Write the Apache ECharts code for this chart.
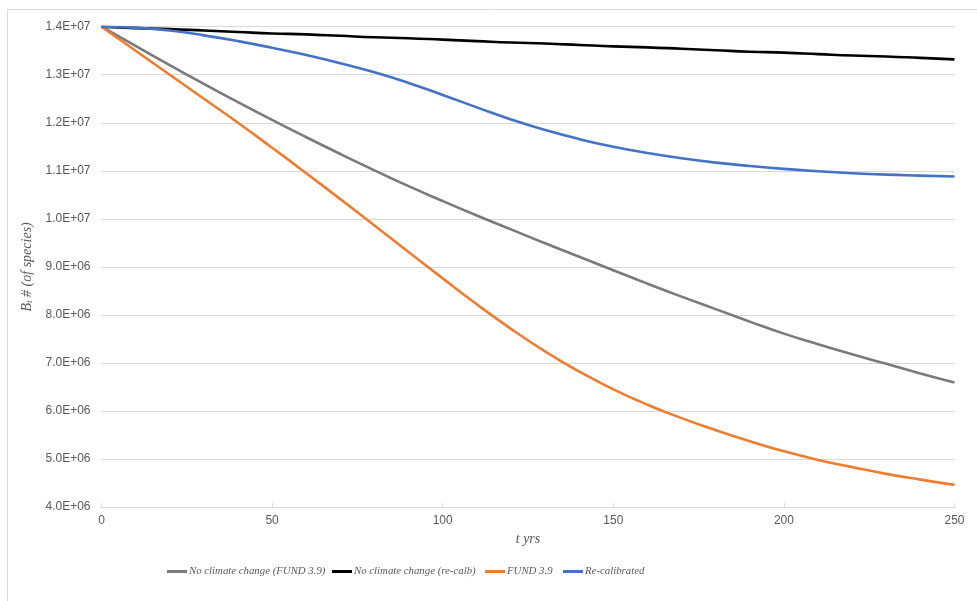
<!DOCTYPE html>
<html>
<head>
<meta charset="utf-8">
<script src="https://cdn.jsdelivr.net/npm/echarts@6/dist/echarts.min.js"></script>
<style>
  html, body { margin: 0; padding: 0; background: #ffffff; }
  #chart { width: 977px; height: 601px; }
</style>
</head>
<body>
<div id="chart"></div>
<script>
// Time axis (years), sampled every 10 years
const years = [0, 10, 20, 30, 40, 50, 60, 70, 80, 90, 100, 110, 120, 130, 140, 150,
               160, 170, 180, 190, 200, 210, 220, 230, 240, 250];

// Number of species B_t for each scenario
const noClimateFund = [1.400e7, 1.360e7, 1.320e7, 1.281e7, 1.243e7, 1.206e7, 1.170e7, 1.135e7,
                       1.101e7, 1.068e7, 1.037e7, 1.007e7, 0.978e7, 0.949e7, 0.921e7, 0.893e7,
                       0.865e7, 0.838e7, 0.812e7, 0.786e7, 0.761e7, 0.739e7, 0.718e7, 0.698e7,
                       0.678e7, 0.659e7];
const noClimateRecalb = [1.400e7, 1.397e7, 1.395e7, 1.392e7, 1.389e7, 1.386e7, 1.384e7, 1.381e7,
                         1.378e7, 1.376e7, 1.373e7, 1.370e7, 1.367e7, 1.365e7, 1.362e7, 1.359e7,
                         1.357e7, 1.354e7, 1.351e7, 1.348e7, 1.346e7, 1.343e7, 1.340e7, 1.338e7,
                         1.335e7, 1.332e7];
const fund39 = [1.400e7, 1.350e7, 1.300e7, 1.250e7, 1.200e7, 1.148e7, 1.095e7, 1.041e7,
                0.986e7, 0.931e7, 0.876e7, 0.822e7, 0.771e7, 0.724e7, 0.682e7, 0.645e7,
                0.613e7, 0.585e7, 0.560e7, 0.537e7, 0.516e7, 0.498e7, 0.483e7, 0.469e7,
                0.457e7, 0.446e7];
const recalibrated = [1.400e7, 1.398e7, 1.392e7, 1.382e7, 1.370e7, 1.356e7, 1.341e7, 1.324e7,
                      1.305e7, 1.283e7, 1.258e7, 1.232e7, 1.207e7, 1.185e7, 1.166e7, 1.150e7,
                      1.137e7, 1.126e7, 1.117e7, 1.110e7, 1.104e7, 1.099e7, 1.095e7, 1.092e7,
                      1.090e7, 1.088e7];

// Axis ranges
const yMin = 4e6, yMax = 1.4e7, yStep = 1e6;
const xMin = 0, xMax = 250, xStep = 50;

const seriesDefs = [
  { name: 'No climate change (FUND 3.9)', data: noClimateFund, color: '#7a7a7a' },
  { name: 'No climate change (re-calb)', data: noClimateRecalb, color: '#000000' },
  { name: 'FUND 3.9', data: fund39, color: '#ed7d31' },
  { name: 'Re-calibrated', data: recalibrated, color: '#4472c4' }
];
// Left edge of each legend entry
const legendLefts = [167, 332, 485, 563];

// Excel-style scientific tick labels, e.g. 1.4E+07
function sciLabel(v) {
  const exp = Math.floor(Math.log10(v) + 1e-9);
  const mant = v / Math.pow(10, exp);
  return mant.toFixed(1) + 'E+' + String(exp).padStart(2, '0');
}

const chart = echarts.init(document.getElementById('chart'));
const labelColor = '#595959';
const serif = '"Liberation Serif", "DejaVu Serif", serif';

chart.setOption({
  animation: false,
  backgroundColor: '#ffffff',
  graphic: [{
    type: 'rect',
    shape: { x: 7.5, y: 9.5, width: 980, height: 600 },
    style: { fill: 'none', stroke: '#d9d9d9', lineWidth: 1 },
    silent: true
  }],
  grid: { left: 101.5, right: 22.5, top: 26.7, bottom: 94, containLabel: false },
  legend: seriesDefs.map((s, i) => ({
    left: legendLefts[i],
    top: 566,
    padding: 0,
    itemWidth: 20,
    itemHeight: 14,
    textStyle: { fontFamily: serif, fontStyle: 'italic', fontSize: 10.8, color: labelColor, padding: [0, 0, 0, -3] },
    data: [{ name: s.name, icon: 'path://M0,5.5 L20,5.5 L20,8.5 L0,8.5 Z', itemStyle: { color: s.color } }]
  })),
  xAxis: {
    type: 'value',
    min: xMin, max: xMax, interval: xStep,
    name: 't yrs',
    nameLocation: 'middle',
    nameGap: 25,
    nameTextStyle: { fontFamily: serif, fontStyle: 'italic', fontSize: 14, color: labelColor },
    axisLine: { show: true, lineStyle: { color: '#d9d9d9', width: 1 } },
    axisTick: { show: true, inside: true, length: 4, lineStyle: { color: '#d9d9d9' } },
    axisLabel: { color: labelColor, fontSize: 12, fontFamily: '"Liberation Sans", Arial, sans-serif', margin: 8 },
    splitLine: { show: false }
  },
  yAxis: {
    type: 'value',
    min: yMin, max: yMax, interval: yStep,
    name: '{b|B}{s|t}{n| # (of species)}',
    nameLocation: 'middle',
    nameGap: 53,
    nameTextStyle: {
      color: labelColor,
      rich: {
        b: { fontFamily: serif, fontStyle: 'italic', fontSize: 14, color: labelColor },
        s: { fontFamily: serif, fontStyle: 'italic', fontSize: 9, color: labelColor, verticalAlign: 'bottom', padding: [6, 0, 0, 0] },
        n: { fontFamily: serif, fontStyle: 'italic', fontSize: 14, color: labelColor }
      }
    },
    axisLine: { show: false },
    axisTick: { show: false },
    axisLabel: {
      color: labelColor, fontSize: 12, fontFamily: '"Liberation Sans", Arial, sans-serif', margin: 11,
      formatter: v => sciLabel(v)
    },
    splitLine: { lineStyle: { color: '#d9d9d9', width: 1 } }
  },
  series: seriesDefs.map(s => ({
    name: s.name,
    type: 'line',
    smooth: true,
    showSymbol: false,
    symbol: 'none',
    color: s.color,
    lineStyle: { color: s.color, width: 2.6 },
    data: years.map((t, i) => [t, s.data[i]])
  }))
});
</script>
</body>
</html>
